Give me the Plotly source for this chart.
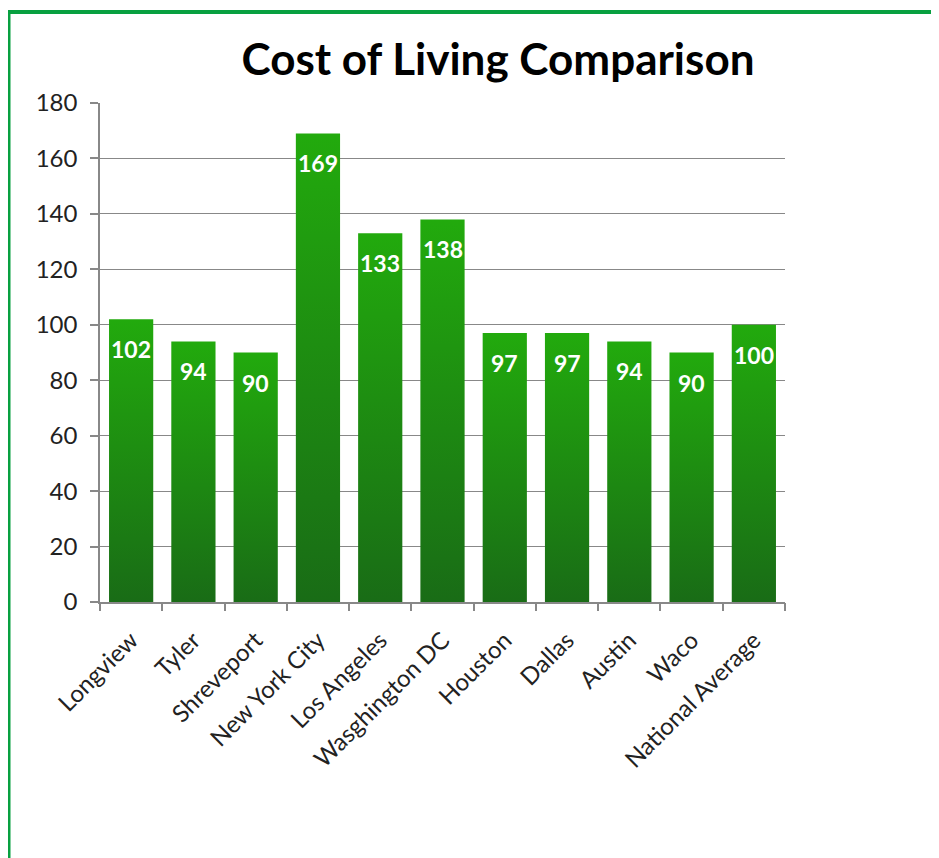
import plotly.graph_objects as go

cities = ["Longview", "Tyler", "Shreveport", "New York City", "Los Angeles",
          "Wasghington DC", "Houston", "Dallas", "Austin", "Waco", "National Average"]
values = [102, 94, 90, 169, 133, 138, 97, 97, 94, 90, 100]
y_ticks = [0, 20, 40, 60, 80, 100, 120, 140, 160, 180]

W, H = 939, 858
OFF = 8  # page body margin
L, R, T, B = 100 - OFF, W - (785 - OFF), 103 - OFF, H - (602 - OFF)
FONT = "Lato, Calibri, 'Open Sans', sans-serif"
half = 0.355

fig = go.Figure()
for i, v in enumerate(values):
    fig.add_trace(go.Scatter(
        x=[i - half, i + half, i + half, i - half, i - half],
        y=[0, 0, v, v, 0],
        mode="lines", line=dict(width=0),
        fill="toself",
        fillgradient=dict(type="vertical",
                          colorscale=[[0, "#196c16"], [1, "#22aa0d"]]),
        hoverinfo="skip", showlegend=False,
    ))

# dummy trace to activate the boundary-tick axis
fig.add_trace(go.Scatter(x=[0], y=[0], xaxis="x2", mode="markers",
                         marker=dict(opacity=0), hoverinfo="skip", showlegend=False))

for i, v in enumerate(values):
    fig.add_annotation(x=i, y=v, text=f"<b>{v}</b>", showarrow=False,
                       yanchor="middle", yshift=-30,
                       font=dict(family=FONT, size=23, color="white"))

pw = W - L - R
ph = H - T - B
def px(xp):
    return (xp - L) / pw
def py(yp):
    return (H - B - yp) / ph

n = len(cities)
fig.update_layout(
    width=W, height=H,
    margin=dict(l=L, r=R, t=T, b=B, pad=0),
    paper_bgcolor="white", plot_bgcolor="white",
    title=dict(text="<b>Cost of Living Comparison</b>", x=490 / W, xanchor="center",
               y=1 - 52 / H, yanchor="middle",
               font=dict(family=FONT, size=44, color="black")),
    font=dict(family=FONT, size=24, color="#222"),
    xaxis=dict(range=[-0.5, n - 0.5], tickvals=list(range(n)), ticktext=cities,
               tickangle=-45, ticks="", showgrid=False, zeroline=False,
               ticklabelstandoff=13,
               showline=True, linecolor="#888888", linewidth=1.5,
               tickfont=dict(family=FONT, size=24, color="#222")),
    xaxis2=dict(range=[-0.5, n - 0.5], overlaying="x", anchor="y", side="bottom",
                tickvals=[k - 0.5 for k in range(n + 1)], showticklabels=False,
                ticks="outside", ticklen=8, tickcolor="#888888", tickwidth=1.5,
                showgrid=False, zeroline=False, showline=False),
    yaxis=dict(range=[0, 180], tickvals=y_ticks, ticks="outside", ticklen=8,
               tickcolor="#888888", tickwidth=1.5, ticklabelstandoff=8,
               showgrid=True, gridcolor="#888888", gridwidth=1.3,
               zeroline=False, showline=True, linecolor="#888888", linewidth=1.5,
               tickfont=dict(family=FONT, size=24, color="#222")),
)

green = "#08a040"
fig.add_shape(type="line", xref="paper", yref="paper",
              x0=px(-5), x1=px(945), y0=py(4), y1=py(4),
              line=dict(color=green, width=4))
fig.add_shape(type="line", xref="paper", yref="paper",
              x0=px(0), x1=px(0), y0=py(2), y1=py(870),
              line=dict(color=green, width=5))

fig.write_html("out.html")
